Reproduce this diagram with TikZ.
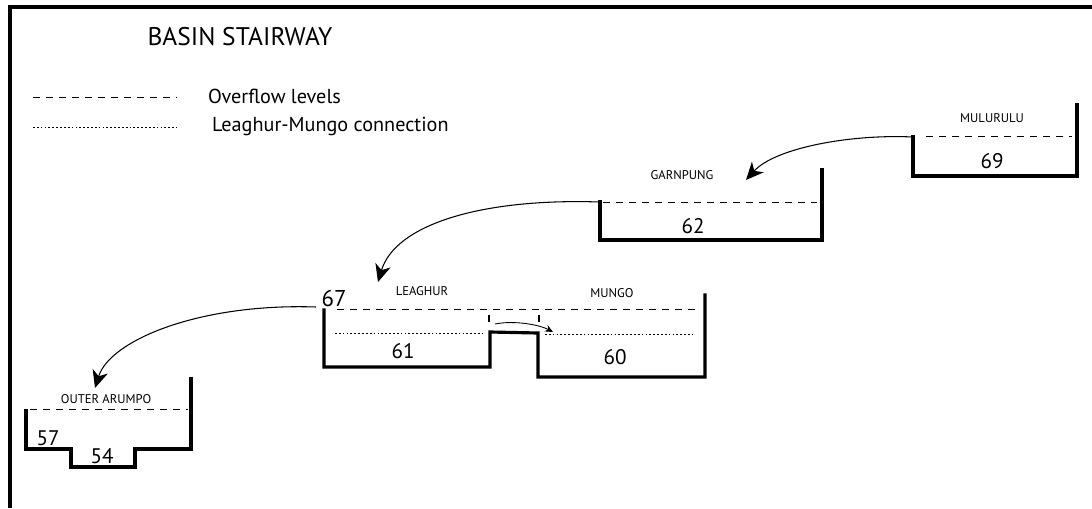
\documentclass[tikz,border=0pt]{standalone}
\usepackage{fontspec}
\setmainfont{PT Sans}
\usepackage{tikz}
\usetikzlibrary{arrows.meta}

\tikzset{
  wall/.style={line width=1.8pt, line cap=rect},
  overflow/.style={line width=0.5pt, dash pattern=on 4pt off 3.4pt},
  link/.style={line width=0.5pt, dash pattern=on 1pt off 1.2pt},
  flow/.style={line width=0.6pt, -{Stealth[length=10pt,width=9pt,inset=3pt]}},
  lakename/.style={font=\fontsize{7.2}{8}\selectfont},
  level/.style={font=\fontsize{12}{13}\selectfont},
}

\begin{document}
\begin{tikzpicture}[x=0.02cm,y=-0.02cm]
\useasboundingbox (0,0) rectangle (1092,508);
% frame
\draw[line width=2pt] (10,508) -- (10,7) -- (1092,7);

% legend
\node[font=\fontsize{14.5}{16}\selectfont] (title) at (240,37) {BASIN STAIRWAY};
\draw[overflow] (33,97) -- (177,97);
\node[anchor=west, font=\fontsize{11.5}{13}\selectfont] (legover) at (202,96) {Overflow levels};
\draw[link] (33,127) -- (177,127);
\node[anchor=west, font=\fontsize{11.5}{13}\selectfont] (leglink) at (206,126) {Leaghur-Mungo connection};

% Mullurulu
\draw[wall] (913,137) -- (913,176) -- (1077,176) -- (1077,105);
\draw[overflow] (926,136) -- (1072,136);
\node[lakename] (mul) at (992,118) {MULURULU};
\node[level] (mulv) at (992,161) {69};
\coordinate (mulout) at (913,137);

% Garnpung
\draw[wall] (600,202) -- (600,240) -- (822,240) -- (822,170);
\draw[overflow] (603,202) -- (817,202);
\node[lakename] (gar) at (682,175) {GARNPUNG};
\node[level] (garv) at (693,226) {62};
\coordinate (garin) at (746,180);
\coordinate (garout) at (600,202);

% Leaghur and Mungo
\draw[wall] (324,310) -- (324,367) -- (490,367) -- (490,332) -- (538,333)
  -- (538,377) -- (705,377) -- (705,295);
\draw[overflow] (337,309) -- (700,309);
\draw[link] (335,333) -- (482,333);
\draw[link] (545,334) -- (692,334);
\draw[line width=0.6pt] (489,315) -- (489,322);
\draw[line width=0.6pt] (539,315) -- (539,322);
\node[level, font=\fontsize{13}{14}\selectfont] (leav) at (334,298) {67};
\node[lakename] (lea) at (422,291) {LEAGHUR};
\node[lakename] (mun) at (612,293) {MUNGO};
\node[level] (leav2) at (403,351) {61};
\node[level] (munv) at (615,357) {60};
\coordinate (leain) at (378,282);
\coordinate (leaout) at (316,307);
\coordinate (chanout) at (495,324);
\coordinate (chanin) at (553,332);

% Outer Arumpo
\draw[wall] (26,411) -- (26,449) -- (71,449) -- (71,467) -- (135,467)
  -- (135,449) -- (191,449) -- (191,379);
\draw[overflow] (30,409) -- (188,409);
\node[lakename] (out) at (106,399) {OUTER ARUMPO};
\node[level] (outv) at (48,438) {57};
\node[level] (outv2) at (102,456) {54};
\coordinate (outin) at (95,388);

% overflow paths
\draw[flow] (mulout) .. controls (850,134) and (775,148) .. (garin);
\draw[flow] (garout) .. controls (480,198) and (395,225) .. (leain);
\draw[flow] (leaout) .. controls (200,303) and (110,340) .. (outin);
\draw[line width=0.5pt, -{Stealth[length=4.5pt,width=4pt]}] (chanout) .. controls (515,320) and (540,325) .. (chanin);
\end{tikzpicture}
\end{document}
